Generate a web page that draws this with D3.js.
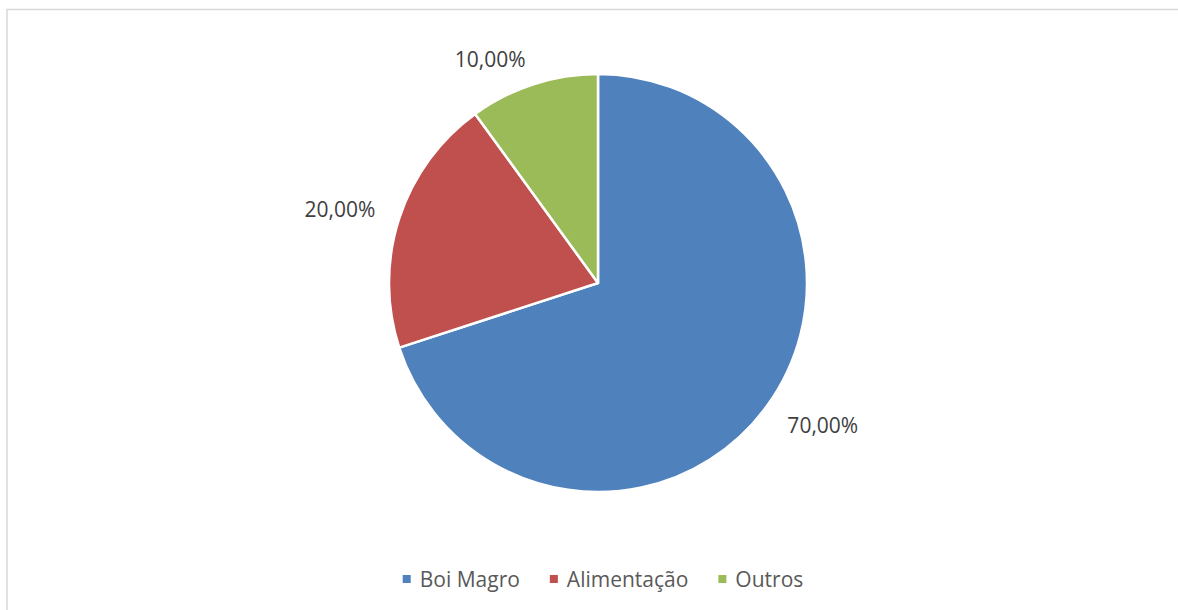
<!DOCTYPE html>
<html>
<head>
<meta charset="utf-8">
<script src="https://cdn.jsdelivr.net/npm/d3@7"></script>
<style>
  body { margin: 0; background: #fff; }
  svg { display: block; font-family: "Open Sans", sans-serif; }
</style>
</head>
<body>
<svg></svg>
<script>
var categories = ["Boi Magro", "Alimentação", "Outros"];
var values = [70, 20, 10];
var labels = ["70,00%", "20,00%", "10,00%"];
var colors = ["#4f81bd", "#c0504d", "#9bbb59"];

var svgWidth = 1178, svgHeight = 610;
var svg = d3.select("svg").attr("width", svgWidth).attr("height", svgHeight);

// chart frame (right and bottom edges fall outside the picture)
svg.append("rect")
    .attr("x", 7).attr("y", 9.5)
    .attr("width", 1200).attr("height", 700)
    .attr("fill", "none")
    .attr("stroke", "#d9d9d9")
    .attr("stroke-width", 1.5);

var cx = 598, cy = 283, radius = 209;

var pie = d3.pie().sort(null).value(function(d){ return d; });
var arcs = pie(values);

var arc = d3.arc().innerRadius(0).outerRadius(radius);
var labelArc = d3.arc().innerRadius(radius * 1.12).outerRadius(radius * 1.12);

var g = svg.append("g").attr("transform", "translate(" + cx + "," + cy + ")");

g.selectAll("path")
    .data(arcs)
    .enter()
    .append("path")
    .attr("d", arc)
    .attr("fill", function(d, i){ return colors[i]; })
    .attr("stroke", "#fff")
    .attr("stroke-width", 2.5)
    .attr("stroke-linejoin", "round");

g.selectAll(".slabel")
    .data(arcs)
    .enter()
    .append("text")
    .attr("class", "slabel")
    .attr("transform", function(d){
        var c = labelArc.centroid(d);
        // right-hand labels sit a little lower
        var shift = (d.startAngle + d.endAngle) / 2 < Math.PI ? 5 : -1;
        return "translate(" + c[0] + "," + (c[1] + shift) + ")";
    })
    .attr("dy", "0.35em")
    .attr("text-anchor", function(d){
        return (d.startAngle + d.endAngle) / 2 < Math.PI ? "start" : "end";
    })
    .attr("fill", "#404040")
    .style("font-size", "21px")
    .text(function(d, i){ return labels[i]; });

// legend
var legend = svg.append("g");
var x = 0, sq = 8, gapText = 9, gapItem = 30;
categories.forEach(function(c, i){
    var item = legend.append("g").attr("transform", "translate(" + x + ",0)");
    item.append("rect")
        .attr("x", 0).attr("y", -12)
        .attr("width", sq).attr("height", sq)
        .attr("fill", colors[i]);
    var t = item.append("text")
        .attr("x", sq + gapText).attr("y", 0)
        .attr("fill", "#595959")
        .style("font-size", "21px")
        .text(c);
    x += sq + gapText + t.node().getComputedTextLength() + gapItem;
});
var legendWidth = x - gapItem;
legend.attr("transform", "translate(" + (603 - legendWidth / 2) + ",587)");
</script>
</body>
</html>
